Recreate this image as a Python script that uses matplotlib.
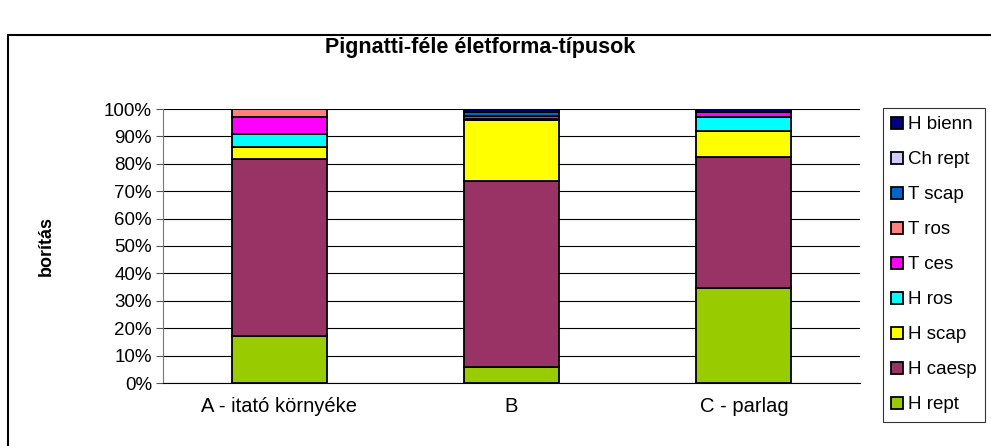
import matplotlib.pyplot as plt
import numpy as np
from matplotlib.patches import Rectangle

plt.rcParams['font.family'] = ['Liberation Sans', 'DejaVu Sans']

categories = ["A - itató környéke", "B", "C - parlag"]
types = ["H rept", "H caesp", "H scap", "H ros", "T ces", "T ros", "T scap", "Ch rept", "H bienn"]
colors = ["#99CC00", "#993366", "#FFFF00", "#00FFFF", "#FF00FF", "#FF8080", "#0066CC", "#CCCCFF", "#000080"]

h_rept = [17.2, 5.8, 34.7]
h_caesp = [64.6, 67.9, 47.8]
h_scap = [4.3, 22.3, 9.5]
h_ros = [4.8, 0.3, 5.1]
t_ces = [6.2, 1.0, 1.9]
t_ros = [2.9, 0.3, 0.0]
t_scap = [0.0, 1.2, 0.0]
ch_rept = [0.0, 0.2, 0.0]
h_bienn = [0.0, 1.0, 1.0]

series = [h_rept, h_caesp, h_scap, h_ros, t_ces, t_ros, t_scap, ch_rept, h_bienn]

fig = plt.figure(figsize=(9.91, 4.46), dpi=100)
ax = fig.add_axes([163/991, 63/446, 697/991, 274/446])

# normalise to 100%
data = np.array(series, dtype=float)
data = data / data.sum(axis=0) * 100

x = np.arange(len(categories))
bottom = np.zeros(len(categories))
handles = []
for name, col, vals in zip(types, colors, data):
    b = ax.bar(x, vals, 0.41, bottom=bottom, color=col, edgecolor='black', linewidth=1.3, label=name)
    handles.append(b)
    bottom += vals

ax.set_xlim(-0.5, 2.5)
ax.set_ylim(0, 100)
ax.set_yticks(np.arange(0, 101, 10))
ax.set_yticklabels([f"{v}%" for v in range(0, 101, 10)], fontsize=13.5)
ax.set_xticks(x)
ax.set_xticklabels(categories, fontsize=14.5)
ax.tick_params(axis='x', length=0, pad=10)
ax.tick_params(axis='y', length=5, color='#555555', pad=3)
ax.yaxis.grid(True, color='black', linewidth=0.8)
ax.set_axisbelow(True)
for s in ['top', 'right']:
    ax.spines[s].set_visible(False)
ax.spines['left'].set_color('#777777')
ax.spines['bottom'].set_color('black')
ax.set_ylabel("borítás", fontsize=13, fontweight='bold', labelpad=35)

fig.text(480/991, 1 - 47/446, "Pignatti-féle életforma-típusok", ha='center', va='center',
         fontsize=15.5, fontweight='bold')
# clipped heading above the chart
fig.text(467/991, 1 + 6/446, "mintaterületeken", ha='center', va='center',
         fontsize=14, fontweight='bold')

leg = fig.legend(handles[::-1], types[::-1], loc='upper left',
                 bbox_to_anchor=(883/991, 1 - 108/446), fontsize=13.5,
                 frameon=True, fancybox=False, edgecolor='black',
                 handlelength=0.6, handleheight=0.6, handletextpad=0.3,
                 labelspacing=0.96, borderpad=0.45, borderaxespad=0)
leg.get_frame().set_linewidth(0.8)

fig.patches.append(Rectangle((8/991, -0.1), 990/991, 1.1 - 35/446, transform=fig.transFigure,
                             fill=False, edgecolor='black', linewidth=1.5))

fig.savefig("out.png", dpi=100)
